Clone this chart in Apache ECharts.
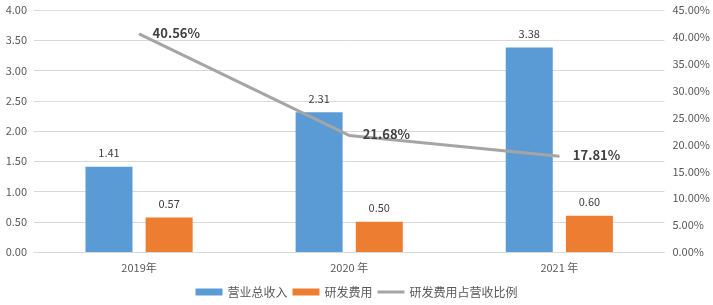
<!DOCTYPE html>
<html><head><meta charset="utf-8">
<script src="https://cdn.jsdelivr.net/npm/echarts@6/dist/echarts.min.js"></script>
<style>html,body{margin:0;padding:0;background:#fff}#c{width:713px;height:305px}</style>
</head><body><div id="c"></div>
<script>
const categories = ['2019年', '2020 年', '2021 年'];
const revenue = [1.41, 2.31, 3.38];
const rdCost = [0.57, 0.50, 0.60];
const rdRatio = [40.56, 21.68, 17.81];
const seriesNames = ['营业总收入', '研发费用', '研发费用占营收比例'];

const font = '"Noto Sans CJK SC", "Noto Sans", sans-serif';
const chart = echarts.init(document.getElementById('c'), null, {renderer: 'canvas'});
chart.setOption({
  animation: false,
  textStyle: {fontFamily: font},
  grid: {left: 34, right: 48, top: 10, bottom: 53, containLabel: false},
  legend: {
    bottom: 2, left: 'center', itemGap: 5, itemWidth: 27, itemHeight: 7,
    textStyle: {color: '#595959', fontSize: 12, fontFamily: font},
    data: [
      {name: seriesNames[0], icon: 'rect'},
      {name: seriesNames[1], icon: 'rect'},
      {name: seriesNames[2], icon: 'path://M0,0 L27,0 L27,3 L0,3 Z'}
    ]
  },
  xAxis: {
    type: 'category', data: categories,
    axisLine: {lineStyle: {color: '#D9D9D9'}},
    axisTick: {show: false},
    axisLabel: {color: '#595959', fontSize: 11, margin: 10, fontFamily: font}
  },
  yAxis: [
    {
      type: 'value', min: 0, max: 4, interval: 0.5,
      axisLine: {show: false}, axisTick: {show: false},
      splitLine: {lineStyle: {color: '#D9D9D9'}},
      axisLabel: {color: '#595959', fontSize: 11, margin: 7, formatter: v => v.toFixed(2), fontFamily: font}
    },
    {
      type: 'value', min: 0, max: 45, interval: 5,
      axisLine: {show: false}, axisTick: {show: false},
      splitLine: {show: false},
      axisLabel: {color: '#595959', fontSize: 11, margin: 8, formatter: v => v.toFixed(2) + '%', fontFamily: font}
    }
  ],
  series: [
    {
      name: seriesNames[0], type: 'bar', data: revenue, barWidth: 47, barGap: '28%',
      itemStyle: {color: '#5B9BD5'},
      label: {show: true, position: 'top', distance: 8, color: '#404040', fontSize: 11, formatter: p => p.value.toFixed(2)}
    },
    {
      name: seriesNames[1], type: 'bar', data: rdCost, barWidth: 47,
      itemStyle: {color: '#ED7D31'},
      label: {show: true, position: 'top', distance: 8, color: '#404040', fontSize: 11, formatter: p => p.value.toFixed(2)}
    },
    {
      name: seriesNames[2], type: 'line', yAxisIndex: 1, data: rdRatio,
      symbol: 'circle', symbolSize: 1, showSymbol: true,
      lineStyle: {color: '#A5A5A5', width: 3}, itemStyle: {color: '#A5A5A5'},
      label: {show: true, position: 'right', distance: 13, offset: [0, -1], color: '#404040', fontSize: 13, fontWeight: 'bold', formatter: p => p.value.toFixed(2) + '%'}
    }
  ]
});
</script></body></html>
